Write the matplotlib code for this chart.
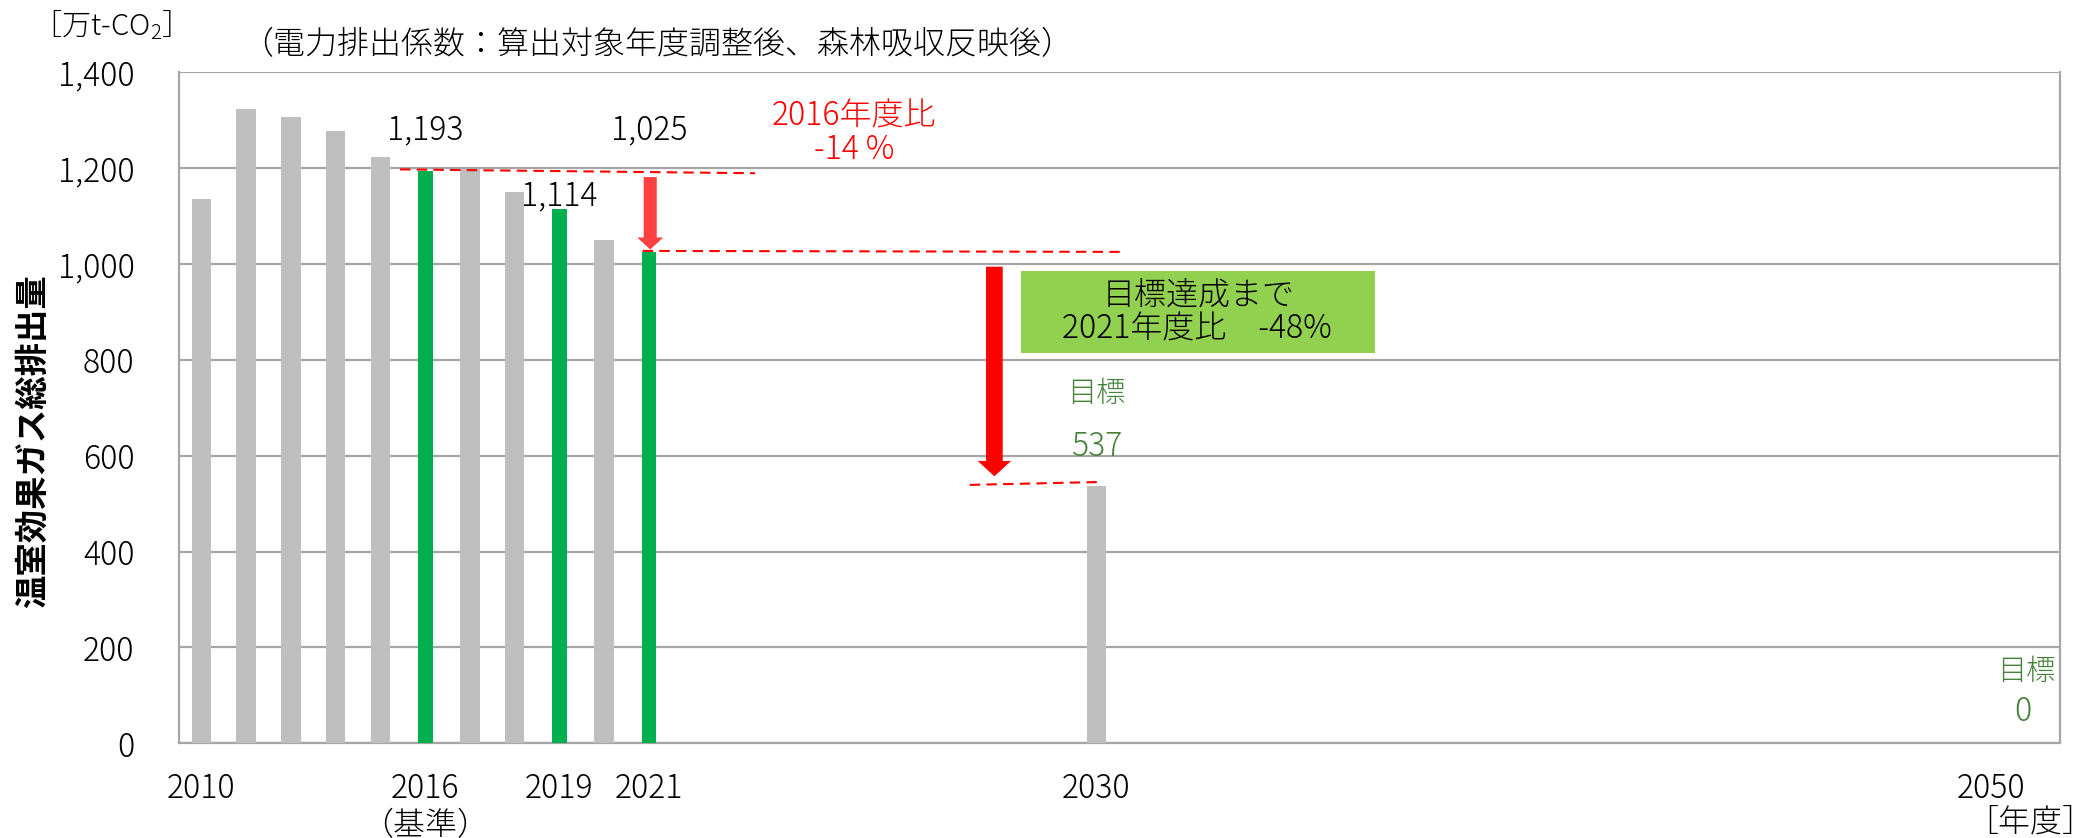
import matplotlib
matplotlib.use("Agg")
import matplotlib.pyplot as plt

plt.rcParams['font.family'] = ['Noto Sans CJK JP', 'DejaVu Sans']
plt.rcParams['font.weight'] = 'light'
plt.rcParams['mathtext.fontset'] = 'custom'
plt.rcParams['mathtext.rm'] = 'Noto Sans CJK JP:light'

# Data (万t-CO2)
bar_labels = ["2010", "", "", "", "", "2016\n（基準）", "", "", "2019", "", "2021"]
bar_values = [1136, 1323, 1306, 1277, 1222, 1193, 1197, 1150, 1114, 1049, 1025]
highlight = [False, False, False, False, False, True, False, False, True, False, True]
target_labels = ["2030", "2050"]
target_values = [537, 0]
target_slots = [20, 40]   # gap slots on the category axis

GRAY = '#bfbfbf'
GREEN = '#00b050'
RED = '#ff0000'
TXT_GREEN = '#458239'
FS = 23

fig = plt.figure(figsize=(20.96, 8.38), dpi=100)
ax = fig.add_axes([0.0854, 0.113, 0.8976, 0.801])

xs = list(range(len(bar_values)))
colors = [GREEN if h else GRAY for h in highlight]
widths = [0.33 if h else 0.435 for h in highlight]
ax.bar(xs, bar_values, width=widths, color=colors, zorder=3)
ax.bar(target_slots, target_values, width=0.43, color=GRAY, zorder=3)

ax.set_xlim(-0.5, 41.54)
ax.set_ylim(0, 1400)
ax.set_yticks(range(0, 1401, 200))
ax.set_yticklabels([f"{v:,}" for v in range(0, 1401, 200)], fontsize=FS)
ax.set_xticks(xs + target_slots)
ax.set_xticklabels(bar_labels + target_labels, fontsize=FS, linespacing=1.12)
ax.tick_params(axis='both', length=0)
ax.tick_params(axis='y', pad=32)
ax.tick_params(axis='x', pad=20)

ax.yaxis.grid(True, color='#a6a6a6', lw=1.6, zorder=0)
for s in ['left', 'right', 'bottom']:
    ax.spines[s].set_color('#a6a6a6')
    ax.spines[s].set_linewidth(1.6)
ax.spines['top'].set_visible(False)

# value labels
for i in [5, 8, 10]:
    yoff = 1279 if i != 8 else 1141
    ax.text(i, yoff, f"{bar_values[i]:,}", ha='center', va='center', fontsize=FS, zorder=5)

# 2016 comparison
ax.text(14.58, 1308, "2016年度比", color=RED, ha='center', va='center', fontsize=FS)
ax.text(14.58, 1238, "-14 %", color=RED, ha='center', va='center', fontsize=FS)
ax.plot([4.44, 12.37], [1197, 1189], color=RED, lw=1.5, dashes=(5, 3), zorder=4)
ax.plot([9.86, 20.54], [1027, 1025], color=RED, lw=1.5, dashes=(5, 3), zorder=4)
ax.annotate("", xy=(10.03, 1030), xytext=(10.03, 1181),
            arrowprops=dict(arrowstyle="simple,head_length=8.6,head_width=18.7,tail_width=9.4",
                            color='#ff4040', lw=0, shrinkA=0, shrinkB=0, mutation_scale=1),
            zorder=5)

# target arrow
ax.annotate("", xy=(17.72, 557), xytext=(17.72, 994),
            arrowprops=dict(arrowstyle="simple,head_length=11,head_width=24,tail_width=12",
                            color=RED, lw=0, shrinkA=0, shrinkB=0, mutation_scale=1),
            zorder=5)
ax.plot([17.17, 20.07], [539, 545], color=RED, lw=1.5, dashes=(5, 3), zorder=4)

ax.fill_between([18.31, 26.23], 814, 985, color='#92d050', zorder=4, lw=0)
ax.text(22.28, 933, "目標達成まで", ha='center', va='center', fontsize=FS, zorder=5)
ax.text(22.24, 863, "2021年度比　-48%", ha='center', va='center', fontsize=FS, zorder=5)

ax.text(20, 729, "目標", color=TXT_GREEN, ha='center', va='center', fontsize=21)
ax.text(20, 619, "537", color=TXT_GREEN, ha='center', va='center', fontsize=FS)
ax.text(40.77, 149, "目標", color=TXT_GREEN, ha='center', va='center', fontsize=21)
ax.text(40.7, 65, "0", color=TXT_GREEN, ha='center', va='center', fontsize=FS)

# axis captions
fig.text(33 / 2096, 1 - 441 / 838, "温室効果ガス総排出量", rotation=90, ha='center', va='center',
         fontsize=24, fontweight='bold')
fig.text(102 / 2096, 1 - 25 / 838, "［万t-CO$_2$］", ha='center', va='center', fontsize=21)
fig.text(241 / 2096, 1 - 45 / 838, "（電力排出係数：算出対象年度調整後、森林吸収反映後）",
         ha='left', va='center', fontsize=FS)
fig.text(2030 / 2096, 1 - 822 / 838, "［年度］", ha='center', va='center', fontsize=FS)

fig.savefig("out.png", dpi=100)
